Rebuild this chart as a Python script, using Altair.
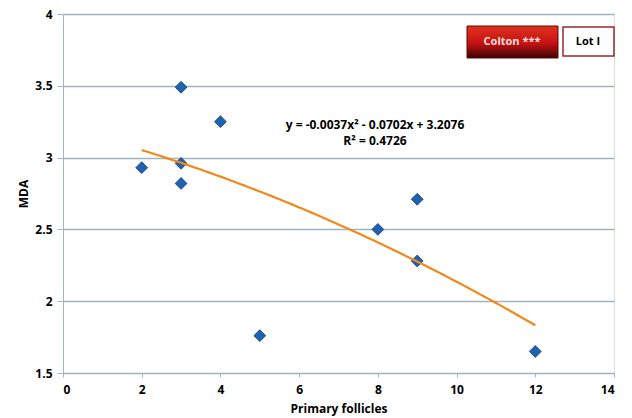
import altair as alt
import pandas as pd

# Data
follicles = [2, 3, 3, 3, 4, 5, 8, 9, 9, 12]
mda = [2.93, 3.49, 2.96, 2.82, 3.25, 1.76, 2.50, 2.71, 2.28, 1.65]

# Trendline coefficients printed on the chart (y = a x^2 + b x + c)
coef_a = -0.0037
coef_b = -0.0702
coef_c = 3.2076
trend_start = 2
trend_stop = 12

eq_lines = ["y = -0.0037x² - 0.0702x + 3.2076", "R² = 0.4726"]
legend_labels = ["Colton ***", "Lot I"]
x_ticks = [0, 2, 4, 6, 8, 10, 12, 14]
y_ticks = [1.5, 2, 2.5, 3, 3.5, 4]

df = pd.DataFrame({"x": follicles, "y": mda})

FONT = "Open Sans"
GRID = "#9fb3c0"

xs = alt.Scale(domain=[0, 14], nice=False)
ys = alt.Scale(domain=[1.5, 4], nice=False, zero=False)

base_x = alt.X("x:Q", scale=xs, title="Primary follicles",
               axis=alt.Axis(values=x_ticks, format="~g", grid=False, domainColor=GRID,
                             tickColor=GRID, tickSize=4, labelFont=FONT, labelFontWeight="bold",
                             labelFontSize=12, labelColor="black", titleFont=FONT,
                             titleFontWeight="bold", titleFontSize=12, titleColor="black",
                             labelPadding=7, titlePadding=8))
base_y = alt.Y("y:Q", scale=ys, title="MDA",
               axis=alt.Axis(values=y_ticks, format="~g", grid=True, gridColor=GRID,
                             gridWidth=1.5, domainColor=GRID, tickColor=GRID, tickSize=6,
                             labelFont=FONT, labelFontWeight="bold", labelFontSize=12,
                             labelColor="black", labelPadding=5, titleFont=FONT,
                             titleFontWeight="bold", titleFontSize=12, titleColor="black",
                             titlePadding=4))

points = alt.Chart(df).mark_point(shape="diamond", filled=True, size=140, color="#1f63b0",
                                  stroke="#0d3a6e", strokeWidth=0.8, opacity=1).encode(
    x=base_x, y=base_y)

trend = alt.Chart(alt.sequence(trend_start, trend_stop + 0.01, 0.1, as_="x")).transform_calculate(
    y=f"{coef_a}*datum.x*datum.x + {coef_b}*datum.x + {coef_c}"
).mark_line(color="#f0891a", strokeWidth=2.2).encode(
    x=alt.X("x:Q", scale=xs), y=alt.Y("y:Q", scale=ys))

eq0 = alt.Chart(pd.DataFrame({"t": [eq_lines[0]]})).mark_text(
    font=FONT, fontWeight="bold", fontSize=12, color="black", align="center", baseline="middle"
).encode(x=alt.value(312), y=alt.value(111), text="t:N")
eq1 = alt.Chart(pd.DataFrame({"t": [eq_lines[1]]})).mark_text(
    font=FONT, fontWeight="bold", fontSize=12, color="black", align="center", baseline="middle"
).encode(x=alt.value(312), y=alt.value(127), text="t:N")

red_df = pd.DataFrame({"lab": [legend_labels[0]]})
red_box = alt.Chart(red_df).mark_rect(
    fill=alt.Gradient(gradient="linear", x1=0, y1=0, x2=0, y2=1,
                      stops=[alt.GradientStop(offset=0, color="#e0321e"),
                             alt.GradientStop(offset=0.55, color="#c41212"),
                             alt.GradientStop(offset=1, color="#3c0202")]),
    stroke="#5a0a0a", strokeWidth=1
).encode(x=alt.value(404), x2=alt.value(495), y=alt.value(12), y2=alt.value(44))
red_txt = alt.Chart(red_df).mark_text(font=FONT, fontWeight="bold", fontSize=11,
                                      color="#f4dede").encode(
    x=alt.value(449), y=alt.value(28), text="lab:N")
white_df = pd.DataFrame({"lab": [legend_labels[1]]})
white_box = alt.Chart(white_df).mark_rect(
    fill="white", stroke="#9a2a2a", strokeWidth=1.5
).encode(x=alt.value(500), x2=alt.value(551), y=alt.value(13), y2=alt.value(42))
white_txt = alt.Chart(white_df).mark_text(
    font=FONT, fontWeight="bold", fontSize=11, color="black"
).encode(x=alt.value(525), y=alt.value(28), text="lab:N")

chart = alt.layer(points, trend, eq0, eq1, red_box, red_txt, white_box, white_txt).properties(
    width=551, height=359,
    autosize=alt.AutoSizeParams(type="none"),
    padding={"left": 63, "top": 14, "right": 18, "bottom": 45},
).configure_view(stroke=None).configure(background="white")

chart.save("out.html", embed_options={"renderer": "svg", "actions": False})
